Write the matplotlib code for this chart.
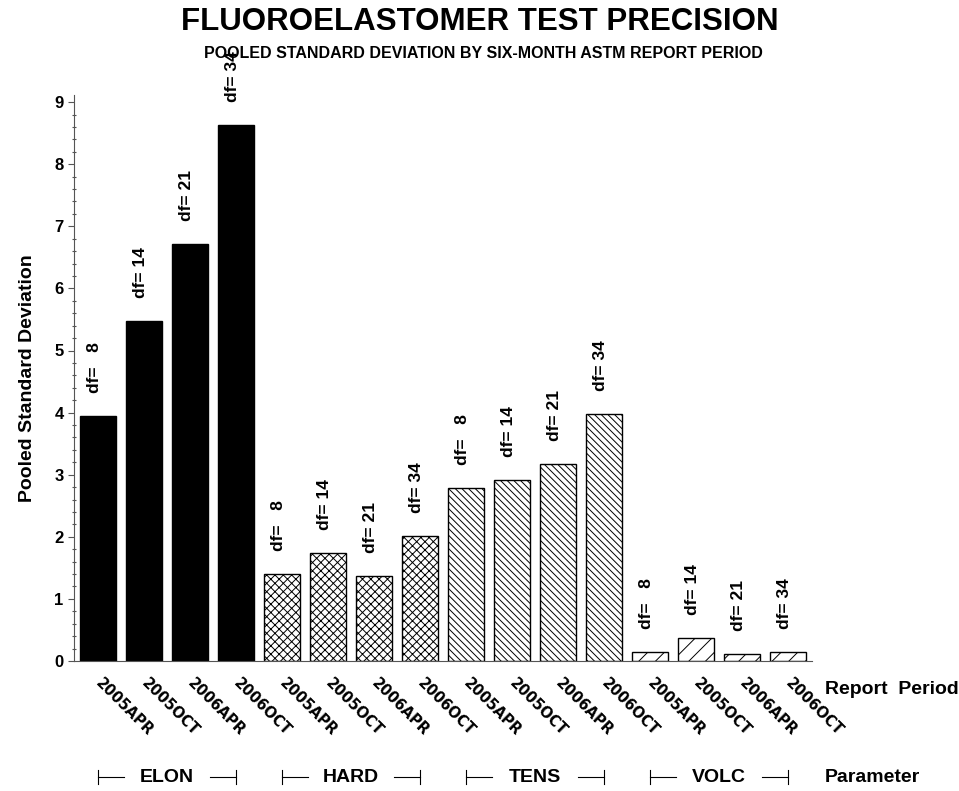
import matplotlib
matplotlib.use("Agg")
import matplotlib.pyplot as plt
from matplotlib.transforms import blended_transform_factory, Bbox, TransformedBbox
from matplotlib.ticker import MultipleLocator

plt.rcParams['font.family'] = ['Liberation Sans', 'DejaVu Sans']
plt.rcParams['hatch.linewidth'] = 0.7

# data
parameters = ['ELON', 'HARD', 'TENS', 'VOLC']
periods = ['2005APR', '2005OCT', '2006APR', '2006OCT']
df_values = [8, 14, 21, 34]
elon = [3.95, 5.48, 6.71, 8.63]
hard = [1.40, 1.74, 1.37, 2.01]
tens = [2.79, 2.92, 3.18, 3.98]
volc = [0.145, 0.37, 0.11, 0.145]
series = [elon, hard, tens, volc]
hatches = [None, 'xxxx', '\\\\\\\\\\', '//']

fig = plt.figure(figsize=(9.59, 7.91), dpi=100)
ax = fig.add_axes([74/959, 1-661/791, (812-74)/959, (661-95)/791])

clip = TransformedBbox(Bbox([[0, 0], [1, 1-47/791]]), fig.transFigure)

x = 0
xticks = []
xlabels = []
for p, vals in enumerate(series):
    for k, v in enumerate(vals):
        if hatches[p] is None:
            ax.bar(x, v, width=0.78, color='black', edgecolor='black', linewidth=1)
        else:
            ax.bar(x, v, width=0.78, color='white', edgecolor='black',
                   linewidth=1, hatch=hatches[p])
        lab = "df= %2d" % df_values[k]
        t = ax.annotate(lab.replace(' 8', '  8'), (x, v), xytext=(-2.5, 16.5),
                        textcoords='offset points', rotation=90,
                        ha='center', va='bottom', fontsize=12.5,
                        fontweight='bold', annotation_clip=False)
        t.set_clip_on(True)
        t.set_clip_box(clip)
        xticks.append(x)
        xlabels.append(periods[k])
        x += 1

ax.set_xlim(-0.52, 15.52)
ax.set_ylim(0, 566/62.1)
ax.spines['top'].set_visible(False)
ax.spines['right'].set_visible(False)
for s in ['left', 'bottom']:
    ax.spines[s].set_color('#555555')

ax.yaxis.set_major_locator(MultipleLocator(1))
ax.yaxis.set_minor_locator(MultipleLocator(0.2))
ax.tick_params(axis='y', which='major', direction='out', length=4.5,
               width=0.8, pad=3, labelsize=12, color='#555555')
ax.tick_params(axis='y', which='minor', direction='inout', length=3,
               width=0.8, color='#555555')
for lbl in ax.get_yticklabels():
    lbl.set_fontweight('bold')

ax.set_xticks(xticks)
ax.set_xticklabels(xlabels, rotation=-45, ha='left', va='center',
                   rotation_mode='anchor', fontsize=10.5, fontweight='bold',
                   family='DejaVu Sans')
ax.tick_params(axis='x', length=0, pad=14.5)

ax.set_ylabel('Pooled Standard Deviation', fontsize=14, fontweight='bold',
              labelpad=13)

fig.text(0.5, 1-22/791, 'FLUOROELASTOMER TEST PRECISION', ha='center',
         va='center', fontsize=22.5, fontweight='bold')
fig.text(483/959, 1-54/791, 'POOLED STANDARD DEVIATION BY SIX-MONTH ASTM REPORT PERIOD',
         ha='center', va='center', fontsize=11.5, fontweight='bold')

fig.text(825/959, 1-690/791, 'Report  Period', ha='left', va='center',
         fontsize=14, fontweight='bold')
fig.text(825/959, 1-777/791, 'Parameter', ha='left', va='center',
         fontsize=14, fontweight='bold')

# group brackets under the period labels
tr = blended_transform_factory(ax.transData, fig.transFigure)
yb = 1-777/791
dy = 7/791
for p, name in enumerate(parameters):
    a = p*4
    b = p*4 + 3
    ax.plot([a, a], [yb-dy, yb+dy], color='black', lw=0.8, transform=tr, clip_on=False)
    ax.plot([a, a+0.57], [yb, yb], color='black', lw=0.8, transform=tr, clip_on=False)
    ax.plot([b-0.57, b], [yb, yb], color='black', lw=0.8, transform=tr, clip_on=False)
    ax.plot([b, b], [yb-dy, yb+dy], color='black', lw=0.8, transform=tr, clip_on=False)
    ax.text((a+b)/2, yb, name, transform=tr, ha='center', va='center',
            fontsize=14, fontweight='bold')

fig.savefig('out.png', dpi=100)
